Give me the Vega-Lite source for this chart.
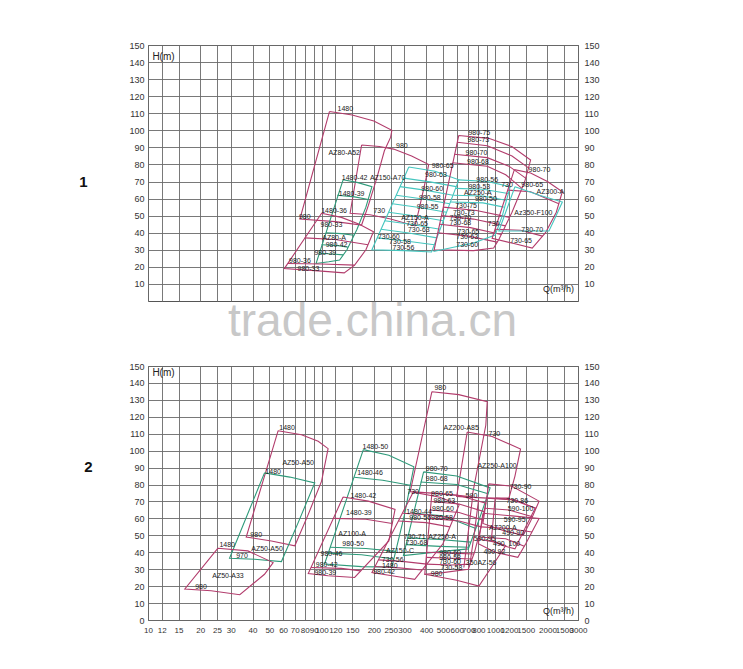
{
"$schema":"https://vega.github.io/schema/vega-lite/v6.json",
"background":"white",
"padding":{"left":78,"top":40,"right":10,"bottom":10},
"spacing":65,
"bounds":"flush",
"config":{"view":{"stroke":"#555","strokeWidth":1},"font":"Liberation Sans","axis":{"labelFont":"Liberation Sans","labelFontSize":9,"labelColor":"#333","ticks":false,"domain":false,"gridColor":"#6a6a6a","gridWidth":0.9,"gridOpacity":1}},
"datasets":{
"lines":[
{"p":1,"id":"a1","c":"pink","i":0,"q":111,"h":111},{"p":1,"id":"a1","c":"pink","i":1,"q":150,"h":109},{"p":1,"id":"a1","c":"pink","i":2,"q":200,"h":105.5},{"p":1,"id":"a1","c":"pink","i":3,"q":254,"h":100},{"p":1,"id":"a1","c":"pink","i":4,"q":250,"h":96},{"p":1,"id":"a1","c":"pink","i":5,"q":230,"h":88},{"p":1,"id":"a1","c":"pink","i":6,"q":208,"h":72},{"p":1,"id":"a1","c":"pink","i":7,"q":186,"h":56},{"p":1,"id":"a1","c":"pink","i":8,"q":170,"h":44.5},{"p":1,"id":"a1","c":"pink","i":9,"q":120,"h":46.5},{"p":1,"id":"a1","c":"pink","i":10,"q":75,"h":48},{"p":1,"id":"a1","c":"pink","i":11,"q":111,"h":111},
{"p":1,"id":"a2","c":"pink","i":0,"q":170,"h":91.4},{"p":1,"id":"a2","c":"pink","i":1,"q":215,"h":90.5},{"p":1,"id":"a2","c":"pink","i":2,"q":260,"h":89},{"p":1,"id":"a2","c":"pink","i":3,"q":330,"h":85},{"p":1,"id":"a2","c":"pink","i":4,"q":414,"h":80},{"p":1,"id":"a2","c":"pink","i":5,"q":400,"h":72},{"p":1,"id":"a2","c":"pink","i":6,"q":363,"h":53},{"p":1,"id":"a2","c":"pink","i":7,"q":345,"h":44},{"p":1,"id":"a2","c":"pink","i":8,"q":250,"h":48},{"p":1,"id":"a2","c":"pink","i":9,"q":190,"h":50.5},{"p":1,"id":"a2","c":"pink","i":10,"q":146,"h":51.4},{"p":1,"id":"a2","c":"pink","i":11,"q":170,"h":91.4},
{"p":1,"id":"a3","c":"green","i":0,"q":133,"h":71},{"p":1,"id":"a3","c":"green","i":1,"q":160,"h":69.5},{"p":1,"id":"a3","c":"green","i":2,"q":195,"h":67},{"p":1,"id":"a3","c":"green","i":3,"q":180,"h":55},{"p":1,"id":"a3","c":"green","i":4,"q":160,"h":42},{"p":1,"id":"a3","c":"green","i":5,"q":140,"h":30},{"p":1,"id":"a3","c":"green","i":6,"q":127,"h":24},{"p":1,"id":"a3","c":"green","i":7,"q":110,"h":23},{"p":1,"id":"a3","c":"green","i":8,"q":93,"h":22},{"p":1,"id":"a3","c":"green","i":9,"q":133,"h":71},
{"p":1,"id":"a3b","c":"green","i":0,"q":123,"h":62},{"p":1,"id":"a3b","c":"green","i":1,"q":155,"h":61},{"p":1,"id":"a3b","c":"green","i":2,"q":186,"h":59.5},
{"p":1,"id":"a3c","c":"green","i":0,"q":106,"h":40},{"p":1,"id":"a3c","c":"green","i":1,"q":130,"h":39.5},{"p":1,"id":"a3c","c":"green","i":2,"q":154,"h":38.5},
{"p":1,"id":"a3d","c":"green","i":0,"q":100,"h":33},{"p":1,"id":"a3d","c":"green","i":1,"q":122,"h":32.5},{"p":1,"id":"a3d","c":"green","i":2,"q":142,"h":31.5},
{"p":1,"id":"a3e","c":"green","i":0,"q":97,"h":28},{"p":1,"id":"a3e","c":"green","i":1,"q":115,"h":27.5},{"p":1,"id":"a3e","c":"green","i":2,"q":133,"h":27},
{"p":1,"id":"a4","c":"pink","i":0,"q":100,"h":51.4},{"p":1,"id":"a4","c":"pink","i":1,"q":130,"h":49},{"p":1,"id":"a4","c":"pink","i":2,"q":165,"h":45},{"p":1,"id":"a4","c":"pink","i":3,"q":199,"h":40.6},{"p":1,"id":"a4","c":"pink","i":4,"q":180,"h":30},{"p":1,"id":"a4","c":"pink","i":5,"q":155,"h":21},{"p":1,"id":"a4","c":"pink","i":6,"q":135,"h":16.5},{"p":1,"id":"a4","c":"pink","i":7,"q":100,"h":17.5},{"p":1,"id":"a4","c":"pink","i":8,"q":61,"h":19},{"p":1,"id":"a4","c":"pink","i":9,"q":100,"h":51.4},
{"p":1,"id":"a4b","c":"pink","i":0,"q":64,"h":22},{"p":1,"id":"a4b","c":"pink","i":1,"q":100,"h":21.7},{"p":1,"id":"a4b","c":"pink","i":2,"q":155,"h":21},
{"p":1,"id":"a4c","c":"pink","i":0,"q":80,"h":37},{"p":1,"id":"a4c","c":"pink","i":1,"q":120,"h":36},{"p":1,"id":"a4c","c":"pink","i":2,"q":185,"h":33},
{"p":1,"id":"a5","c":"cyan","i":0,"q":318,"h":78.5},{"p":1,"id":"a5","c":"cyan","i":1,"q":450,"h":76},{"p":1,"id":"a5","c":"cyan","i":2,"q":617,"h":71},{"p":1,"id":"a5","c":"cyan","i":3,"q":430,"h":28.7},{"p":1,"id":"a5","c":"cyan","i":4,"q":300,"h":29.5},{"p":1,"id":"a5","c":"cyan","i":5,"q":195,"h":30},{"p":1,"id":"a5","c":"cyan","i":6,"q":318,"h":78.5},
{"p":1,"id":"a5a","c":"cyan","i":0,"q":298,"h":72},{"p":1,"id":"a5a","c":"cyan","i":1,"q":421,"h":69.8},{"p":1,"id":"a5a","c":"cyan","i":2,"q":596,"h":67},
{"p":1,"id":"a5b","c":"cyan","i":0,"q":283,"h":67},{"p":1,"id":"a5b","c":"cyan","i":1,"q":402,"h":64.8},{"p":1,"id":"a5b","c":"cyan","i":2,"q":571,"h":62},
{"p":1,"id":"a5c","c":"cyan","i":0,"q":269,"h":62},{"p":1,"id":"a5c","c":"cyan","i":1,"q":384,"h":59.8},{"p":1,"id":"a5c","c":"cyan","i":2,"q":547,"h":57},
{"p":1,"id":"a5d","c":"cyan","i":0,"q":256,"h":57},{"p":1,"id":"a5d","c":"cyan","i":1,"q":366,"h":54.8},{"p":1,"id":"a5d","c":"cyan","i":2,"q":524,"h":52},
{"p":1,"id":"a5e","c":"cyan","i":0,"q":243,"h":52},{"p":1,"id":"a5e","c":"cyan","i":1,"q":349,"h":49.8},{"p":1,"id":"a5e","c":"cyan","i":2,"q":502,"h":47},
{"p":1,"id":"a5f","c":"cyan","i":0,"q":231,"h":47},{"p":1,"id":"a5f","c":"cyan","i":1,"q":333,"h":44.8},{"p":1,"id":"a5f","c":"cyan","i":2,"q":481,"h":42},
{"p":1,"id":"a5g","c":"cyan","i":0,"q":220,"h":42},{"p":1,"id":"a5g","c":"cyan","i":1,"q":318,"h":39.8},{"p":1,"id":"a5g","c":"cyan","i":2,"q":461,"h":37},
{"p":1,"id":"a5h","c":"cyan","i":0,"q":209,"h":37},{"p":1,"id":"a5h","c":"cyan","i":1,"q":305,"h":35.2},{"p":1,"id":"a5h","c":"cyan","i":2,"q":446,"h":33},
{"p":1,"id":"a6","c":"pink","i":0,"q":617,"h":97},{"p":1,"id":"a6","c":"pink","i":1,"q":918,"h":95.3},{"p":1,"id":"a6","c":"pink","i":2,"q":1253,"h":90.4},{"p":1,"id":"a6","c":"pink","i":3,"q":1600,"h":82.6},{"p":1,"id":"a6","c":"pink","i":4,"q":1480,"h":70},{"p":1,"id":"a6","c":"pink","i":5,"q":1250,"h":52},{"p":1,"id":"a6","c":"pink","i":6,"q":1050,"h":36},{"p":1,"id":"a6","c":"pink","i":7,"q":980,"h":31},{"p":1,"id":"a6","c":"pink","i":8,"q":750,"h":29.5},{"p":1,"id":"a6","c":"pink","i":9,"q":445,"h":30},{"p":1,"id":"a6","c":"pink","i":10,"q":617,"h":97},
{"p":1,"id":"a6a","c":"pink","i":0,"q":605,"h":93},{"p":1,"id":"a6a","c":"pink","i":1,"q":900,"h":91},{"p":1,"id":"a6a","c":"pink","i":2,"q":1250,"h":85},{"p":1,"id":"a6a","c":"pink","i":3,"q":1555,"h":78},
{"p":1,"id":"a6b","c":"pink","i":0,"q":582,"h":86},{"p":1,"id":"a6b","c":"pink","i":1,"q":900,"h":84},{"p":1,"id":"a6b","c":"pink","i":2,"q":1200,"h":79},{"p":1,"id":"a6b","c":"pink","i":3,"q":1498,"h":72},
{"p":1,"id":"a6c","c":"pink","i":0,"q":568,"h":81},{"p":1,"id":"a6c","c":"pink","i":1,"q":900,"h":79},{"p":1,"id":"a6c","c":"pink","i":2,"q":1150,"h":74},{"p":1,"id":"a6c","c":"pink","i":3,"q":1425,"h":66},
{"p":1,"id":"a6d","c":"pink","i":0,"q":502,"h":55},{"p":1,"id":"a6d","c":"pink","i":1,"q":780,"h":53},{"p":1,"id":"a6d","c":"pink","i":2,"q":1210,"h":49},
{"p":1,"id":"a6e","c":"pink","i":0,"q":490,"h":50},{"p":1,"id":"a6e","c":"pink","i":1,"q":750,"h":48},{"p":1,"id":"a6e","c":"pink","i":2,"q":1146,"h":44},
{"p":1,"id":"a6f","c":"pink","i":0,"q":478,"h":45},{"p":1,"id":"a6f","c":"pink","i":1,"q":720,"h":43},{"p":1,"id":"a6f","c":"pink","i":2,"q":1085,"h":39},
{"p":1,"id":"a6g","c":"pink","i":0,"q":467,"h":40},{"p":1,"id":"a6g","c":"pink","i":1,"q":700,"h":38},{"p":1,"id":"a6g","c":"pink","i":2,"q":1028,"h":34.5},
{"p":1,"id":"a7","c":"cyan","i":0,"q":617,"h":71},{"p":1,"id":"a7","c":"cyan","i":1,"q":900,"h":70},{"p":1,"id":"a7","c":"cyan","i":2,"q":1220,"h":67},{"p":1,"id":"a7","c":"cyan","i":3,"q":1100,"h":50},{"p":1,"id":"a7","c":"cyan","i":4,"q":1000,"h":38.7},{"p":1,"id":"a7","c":"cyan","i":5,"q":750,"h":34},{"p":1,"id":"a7","c":"cyan","i":6,"q":441,"h":29},
{"p":1,"id":"a7a","c":"cyan","i":0,"q":592,"h":66},{"p":1,"id":"a7a","c":"cyan","i":1,"q":850,"h":65.5},{"p":1,"id":"a7a","c":"cyan","i":2,"q":1187,"h":63},
{"p":1,"id":"a7b","c":"cyan","i":0,"q":574,"h":62},{"p":1,"id":"a7b","c":"cyan","i":1,"q":850,"h":61.5},{"p":1,"id":"a7b","c":"cyan","i":2,"q":1153,"h":59},
{"p":1,"id":"a7c","c":"cyan","i":0,"q":556,"h":58},{"p":1,"id":"a7c","c":"cyan","i":1,"q":850,"h":57.5},{"p":1,"id":"a7c","c":"cyan","i":2,"q":1121,"h":55},
{"p":1,"id":"a8","c":"pink","i":0,"q":1290,"h":77},{"p":1,"id":"a8","c":"pink","i":1,"q":1600,"h":75},{"p":1,"id":"a8","c":"pink","i":2,"q":2000,"h":70},{"p":1,"id":"a8","c":"pink","i":3,"q":2437,"h":64},{"p":1,"id":"a8","c":"pink","i":4,"q":2250,"h":52},{"p":1,"id":"a8","c":"pink","i":5,"q":1950,"h":40},{"p":1,"id":"a8","c":"pink","i":6,"q":1635,"h":31},{"p":1,"id":"a8","c":"pink","i":7,"q":1300,"h":33.5},{"p":1,"id":"a8","c":"pink","i":8,"q":960,"h":36.7},{"p":1,"id":"a8","c":"pink","i":9,"q":1290,"h":77},
{"p":1,"id":"a8a","c":"pink","i":0,"q":1182,"h":65},{"p":1,"id":"a8a","c":"pink","i":1,"q":1600,"h":64},{"p":1,"id":"a8a","c":"pink","i":2,"q":2326,"h":57},
{"p":1,"id":"a8b","c":"pink","i":0,"q":998,"h":42},{"p":1,"id":"a8b","c":"pink","i":1,"q":1400,"h":41.5},{"p":1,"id":"a8b","c":"pink","i":2,"q":1875,"h":38},
{"p":1,"id":"a9","c":"cyan","i":0,"q":1300,"h":67},{"p":1,"id":"a9","c":"cyan","i":1,"q":1800,"h":62},{"p":1,"id":"a9","c":"cyan","i":2,"q":2437,"h":58},{"p":1,"id":"a9","c":"cyan","i":3,"q":2200,"h":48},{"p":1,"id":"a9","c":"cyan","i":4,"q":2040,"h":41},{"p":1,"id":"a9","c":"cyan","i":5,"q":1600,"h":41},{"p":1,"id":"a9","c":"cyan","i":6,"q":1050,"h":41},{"p":1,"id":"a9","c":"cyan","i":7,"q":1300,"h":67},
{"p":2,"id":"b1","c":"pink","i":0,"q":56.2,"h":111.8},{"p":2,"id":"b1","c":"pink","i":1,"q":76.6,"h":109.4},{"p":2,"id":"b1","c":"pink","i":2,"q":95.6,"h":105.5},{"p":2,"id":"b1","c":"pink","i":3,"q":109,"h":101.2},{"p":2,"id":"b1","c":"pink","i":4,"q":100,"h":82},{"p":2,"id":"b1","c":"pink","i":5,"q":83.8,"h":62.4},{"p":2,"id":"b1","c":"pink","i":6,"q":70.1,"h":43.8},{"p":2,"id":"b1","c":"pink","i":7,"q":51.4,"h":46.7},{"p":2,"id":"b1","c":"pink","i":8,"q":36.8,"h":49},{"p":2,"id":"b1","c":"pink","i":9,"q":56.2,"h":111.8},
{"p":2,"id":"b2","c":"green","i":0,"q":46.9,"h":86.9},{"p":2,"id":"b2","c":"green","i":1,"q":65.6,"h":84.4},{"p":2,"id":"b2","c":"green","i":2,"q":91.3,"h":81},{"p":2,"id":"b2","c":"green","i":3,"q":73.3,"h":57.5},{"p":2,"id":"b2","c":"green","i":4,"q":58.7,"h":34.5},{"p":2,"id":"b2","c":"green","i":5,"q":41.1,"h":35.9},{"p":2,"id":"b2","c":"green","i":6,"q":29.5,"h":36.5},{"p":2,"id":"b2","c":"green","i":7,"q":46.9,"h":86.9},
{"p":2,"id":"b3","c":"pink","i":0,"q":25.3,"h":42.4},{"p":2,"id":"b3","c":"pink","i":1,"q":37.6,"h":40.8},{"p":2,"id":"b3","c":"pink","i":2,"q":52.6,"h":33.9},{"p":2,"id":"b3","c":"pink","i":3,"q":46.9,"h":27},{"p":2,"id":"b3","c":"pink","i":4,"q":33.8,"h":14.9},{"p":2,"id":"b3","c":"pink","i":5,"q":23.1,"h":17.3},{"p":2,"id":"b3","c":"pink","i":6,"q":16.3,"h":18.3},{"p":2,"id":"b3","c":"pink","i":7,"q":25.3,"h":42.4},
{"p":2,"id":"b4","c":"green","i":0,"q":174,"h":100.6},{"p":2,"id":"b4","c":"green","i":1,"q":244,"h":97.3},{"p":2,"id":"b4","c":"green","i":2,"q":340,"h":90.5},{"p":2,"id":"b4","c":"green","i":3,"q":300,"h":62},{"p":2,"id":"b4","c":"green","i":4,"q":254,"h":31.2},{"p":2,"id":"b4","c":"green","i":5,"q":170,"h":31.5},{"p":2,"id":"b4","c":"green","i":6,"q":104,"h":33},{"p":2,"id":"b4","c":"green","i":7,"q":174,"h":100.6},
{"p":2,"id":"b4a","c":"green","i":0,"q":154,"h":84.3},{"p":2,"id":"b4a","c":"green","i":1,"q":225,"h":82.5},{"p":2,"id":"b4a","c":"green","i":2,"q":324,"h":79.6},
{"p":2,"id":"b4b","c":"green","i":0,"q":112,"h":43},{"p":2,"id":"b4b","c":"green","i":1,"q":180,"h":42.2},{"p":2,"id":"b4b","c":"green","i":2,"q":268,"h":40.5},
{"p":2,"id":"b4c","c":"green","i":0,"q":109,"h":39.5},{"p":2,"id":"b4c","c":"green","i":1,"q":170,"h":38.5},{"p":2,"id":"b4c","c":"green","i":2,"q":261,"h":36},
{"p":2,"id":"b5","c":"pink","i":0,"q":133,"h":72.6},{"p":2,"id":"b5","c":"pink","i":1,"q":186,"h":70.2},{"p":2,"id":"b5","c":"pink","i":2,"q":265,"h":65.3},{"p":2,"id":"b5","c":"pink","i":3,"q":244,"h":46.7},{"p":2,"id":"b5","c":"pink","i":4,"q":155,"h":25.1},{"p":2,"id":"b5","c":"pink","i":5,"q":109,"h":26.1},{"p":2,"id":"b5","c":"pink","i":6,"q":83.8,"h":27.5},{"p":2,"id":"b5","c":"pink","i":7,"q":133,"h":72.6},
{"p":2,"id":"b5a","c":"pink","i":0,"q":117,"h":60},{"p":2,"id":"b5a","c":"pink","i":1,"q":180,"h":59.5},{"p":2,"id":"b5a","c":"pink","i":2,"q":255,"h":57},
{"p":2,"id":"b5b","c":"pink","i":0,"q":87,"h":31},{"p":2,"id":"b5b","c":"pink","i":1,"q":130,"h":30.5},{"p":2,"id":"b5b","c":"pink","i":2,"q":168,"h":29},
{"p":2,"id":"b6","c":"pink","i":0,"q":432,"h":134.8},{"p":2,"id":"b6","c":"pink","i":1,"q":617,"h":133.1},{"p":2,"id":"b6","c":"pink","i":2,"q":900,"h":128.9},{"p":2,"id":"b6","c":"pink","i":3,"q":883,"h":115},{"p":2,"id":"b6","c":"pink","i":4,"q":736,"h":72.8},{"p":2,"id":"b6","c":"pink","i":5,"q":500,"h":74.5},{"p":2,"id":"b6","c":"pink","i":6,"q":324,"h":75.8},{"p":2,"id":"b6","c":"pink","i":7,"q":432,"h":134.8},
{"p":2,"id":"b7","c":"pink","i":0,"q":690,"h":111},{"p":2,"id":"b7","c":"pink","i":1,"q":960,"h":108.4},{"p":2,"id":"b7","c":"pink","i":2,"q":1400,"h":101},{"p":2,"id":"b7","c":"pink","i":3,"q":1300,"h":85},{"p":2,"id":"b7","c":"pink","i":4,"q":1200,"h":72},{"p":2,"id":"b7","c":"pink","i":5,"q":900,"h":72},{"p":2,"id":"b7","c":"pink","i":6,"q":600,"h":73},{"p":2,"id":"b7","c":"pink","i":7,"q":690,"h":111},
{"p":2,"id":"b8","c":"green","i":0,"q":387,"h":87.5},{"p":2,"id":"b8","c":"green","i":1,"q":600,"h":85},{"p":2,"id":"b8","c":"green","i":2,"q":935,"h":78},{"p":2,"id":"b8","c":"green","i":3,"q":900,"h":73},{"p":2,"id":"b8","c":"green","i":4,"q":800,"h":58},{"p":2,"id":"b8","c":"green","i":5,"q":700,"h":42},{"p":2,"id":"b8","c":"green","i":6,"q":500,"h":40.5},{"p":2,"id":"b8","c":"green","i":7,"q":296,"h":38},{"p":2,"id":"b8","c":"green","i":8,"q":387,"h":87.5},
{"p":2,"id":"b8a","c":"green","i":0,"q":372,"h":81.5},{"p":2,"id":"b8a","c":"green","i":1,"q":600,"h":80},{"p":2,"id":"b8a","c":"green","i":2,"q":910,"h":74.5},
{"p":2,"id":"b8b","c":"green","i":0,"q":313,"h":48.5},{"p":2,"id":"b8b","c":"green","i":1,"q":480,"h":47.5},{"p":2,"id":"b8b","c":"green","i":2,"q":724,"h":46},
{"p":2,"id":"b8c","c":"green","i":0,"q":307,"h":44.5},{"p":2,"id":"b8c","c":"green","i":1,"q":480,"h":43.5},{"p":2,"id":"b8c","c":"green","i":2,"q":706,"h":43},
{"p":2,"id":"b8d","c":"green","i":0,"q":339,"h":63},{"p":2,"id":"b8d","c":"green","i":1,"q":500,"h":61.5},{"p":2,"id":"b8d","c":"green","i":2,"q":774,"h":54},
{"p":2,"id":"b9","c":"pink","i":0,"q":337,"h":75.5},{"p":2,"id":"b9","c":"pink","i":1,"q":480,"h":72.5},{"p":2,"id":"b9","c":"pink","i":2,"q":620,"h":68},{"p":2,"id":"b9","c":"pink","i":3,"q":500,"h":45},{"p":2,"id":"b9","c":"pink","i":4,"q":344,"h":24},{"p":2,"id":"b9","c":"pink","i":5,"q":260,"h":26},{"p":2,"id":"b9","c":"pink","i":6,"q":195,"h":28},{"p":2,"id":"b9","c":"pink","i":7,"q":337,"h":75.5},
{"p":2,"id":"b9a","c":"pink","i":0,"q":292,"h":63},{"p":2,"id":"b9a","c":"pink","i":1,"q":420,"h":62},{"p":2,"id":"b9a","c":"pink","i":2,"q":575,"h":60},
{"p":2,"id":"b9b","c":"pink","i":0,"q":277,"h":58.5},{"p":2,"id":"b9b","c":"pink","i":1,"q":400,"h":57.5},{"p":2,"id":"b9b","c":"pink","i":2,"q":548,"h":55},
{"p":2,"id":"b9c","c":"pink","i":0,"q":213,"h":35.5},{"p":2,"id":"b9c","c":"pink","i":1,"q":300,"h":34.5},{"p":2,"id":"b9c","c":"pink","i":2,"q":404,"h":33},
{"p":2,"id":"b9d","c":"pink","i":0,"q":203,"h":31.6},{"p":2,"id":"b9d","c":"pink","i":1,"q":280,"h":30.8},{"p":2,"id":"b9d","c":"pink","i":2,"q":379,"h":29.5},
{"p":2,"id":"b10","c":"pink","i":0,"q":432,"h":75},{"p":2,"id":"b10","c":"pink","i":1,"q":620,"h":73.5},{"p":2,"id":"b10","c":"pink","i":2,"q":883,"h":69},{"p":2,"id":"b10","c":"pink","i":3,"q":830,"h":55},{"p":2,"id":"b10","c":"pink","i":4,"q":760,"h":40},{"p":2,"id":"b10","c":"pink","i":5,"q":700,"h":30},{"p":2,"id":"b10","c":"pink","i":6,"q":500,"h":28},{"p":2,"id":"b10","c":"pink","i":7,"q":393,"h":27},{"p":2,"id":"b10","c":"pink","i":8,"q":432,"h":75},
{"p":2,"id":"b10a","c":"pink","i":0,"q":428,"h":70},{"p":2,"id":"b10a","c":"pink","i":1,"q":620,"h":68.5},{"p":2,"id":"b10a","c":"pink","i":2,"q":864,"h":64},
{"p":2,"id":"b10b","c":"pink","i":0,"q":424,"h":65},{"p":2,"id":"b10b","c":"pink","i":1,"q":620,"h":63.5},{"p":2,"id":"b10b","c":"pink","i":2,"q":849,"h":59},
{"p":2,"id":"b10c","c":"pink","i":0,"q":420,"h":60},{"p":2,"id":"b10c","c":"pink","i":1,"q":620,"h":58.5},{"p":2,"id":"b10c","c":"pink","i":2,"q":830,"h":55},
{"p":2,"id":"b10d","c":"pink","i":0,"q":403,"h":40},{"p":2,"id":"b10d","c":"pink","i":1,"q":560,"h":39.5},{"p":2,"id":"b10d","c":"pink","i":2,"q":754,"h":39},
{"p":2,"id":"b10e","c":"pink","i":0,"q":401,"h":37},{"p":2,"id":"b10e","c":"pink","i":1,"q":560,"h":36.5},{"p":2,"id":"b10e","c":"pink","i":2,"q":736,"h":36},
{"p":2,"id":"b10f","c":"pink","i":0,"q":398,"h":33},{"p":2,"id":"b10f","c":"pink","i":1,"q":560,"h":32.5},{"p":2,"id":"b10f","c":"pink","i":2,"q":719,"h":33},
{"p":2,"id":"b10g","c":"pink","i":0,"q":740,"h":72},{"p":2,"id":"b10g","c":"pink","i":1,"q":700,"h":52},{"p":2,"id":"b10g","c":"pink","i":2,"q":660,"h":31},
{"p":2,"id":"b10h","c":"pink","i":0,"q":800,"h":70},{"p":2,"id":"b10h","c":"pink","i":1,"q":760,"h":52},{"p":2,"id":"b10h","c":"pink","i":2,"q":720,"h":35},
{"p":2,"id":"b11","c":"pink","i":0,"q":393,"h":27},{"p":2,"id":"b11","c":"pink","i":1,"q":600,"h":23.5},{"p":2,"id":"b11","c":"pink","i":2,"q":806,"h":20},{"p":2,"id":"b11","c":"pink","i":3,"q":950,"h":31},{"p":2,"id":"b11","c":"pink","i":4,"q":1150,"h":44},{"p":2,"id":"b11","c":"pink","i":5,"q":1000,"h":46},{"p":2,"id":"b11","c":"pink","i":6,"q":780,"h":48},
{"p":2,"id":"b12","c":"pink","i":0,"q":918,"h":80.4},{"p":2,"id":"b12","c":"pink","i":1,"q":1250,"h":79},{"p":2,"id":"b12","c":"pink","i":2,"q":1790,"h":70.2},{"p":2,"id":"b12","c":"pink","i":3,"q":1600,"h":58.5},{"p":2,"id":"b12","c":"pink","i":4,"q":1450,"h":50},{"p":2,"id":"b12","c":"pink","i":5,"q":1100,"h":53},{"p":2,"id":"b12","c":"pink","i":6,"q":850,"h":57},{"p":2,"id":"b12","c":"pink","i":7,"q":918,"h":80.4},
{"p":2,"id":"b12a","c":"pink","i":0,"q":893,"h":72},{"p":2,"id":"b12a","c":"pink","i":1,"q":1250,"h":71},{"p":2,"id":"b12a","c":"pink","i":2,"q":1720,"h":66},
{"p":2,"id":"b12b","c":"pink","i":0,"q":876,"h":66},{"p":2,"id":"b12b","c":"pink","i":1,"q":1200,"h":65},{"p":2,"id":"b12b","c":"pink","i":2,"q":1639,"h":61},
{"p":2,"id":"b13","c":"pink","i":0,"q":850,"h":63},{"p":2,"id":"b13","c":"pink","i":1,"q":1250,"h":61.5},{"p":2,"id":"b13","c":"pink","i":2,"q":1790,"h":60},{"p":2,"id":"b13","c":"pink","i":3,"q":1500,"h":45},{"p":2,"id":"b13","c":"pink","i":4,"q":1350,"h":37},{"p":2,"id":"b13","c":"pink","i":5,"q":1000,"h":40},{"p":2,"id":"b13","c":"pink","i":6,"q":800,"h":45},{"p":2,"id":"b13","c":"pink","i":7,"q":850,"h":63},
{"p":2,"id":"b13a","c":"pink","i":0,"q":828,"h":55},{"p":2,"id":"b13a","c":"pink","i":1,"q":1200,"h":54},{"p":2,"id":"b13a","c":"pink","i":2,"q":1629,"h":52},
{"p":2,"id":"b13b","c":"pink","i":0,"q":811,"h":49},{"p":2,"id":"b13b","c":"pink","i":1,"q":1150,"h":48},{"p":2,"id":"b13b","c":"pink","i":2,"q":1471,"h":43.5},
{"p":2,"id":"b14","c":"pink","i":0,"q":1000,"h":72},{"p":2,"id":"b14","c":"pink","i":1,"q":1300,"h":71},{"p":2,"id":"b14","c":"pink","i":2,"q":1700,"h":66},{"p":2,"id":"b14","c":"pink","i":3,"q":1500,"h":55},{"p":2,"id":"b14","c":"pink","i":4,"q":1300,"h":42},{"p":2,"id":"b14","c":"pink","i":5,"q":1100,"h":44},{"p":2,"id":"b14","c":"pink","i":6,"q":950,"h":47},{"p":2,"id":"b14","c":"pink","i":7,"q":1000,"h":72}
],
"labels":[
{"p":1,"q":137,"h":112.5,"t":"1480"},{"p":1,"q":135,"h":87,"t":"AZ80-A52"},{"p":1,"q":80,"h":49.5,"t":"980"},{"p":1,"q":290,"h":91,"t":"980"},
{"p":1,"q":155,"h":72,"t":"1480-42"},{"p":1,"q":240,"h":72,"t":"AZ150-A70"},{"p":1,"q":149,"h":62.9,"t":"1480-39"},{"p":1,"q":215,"h":52.5,"t":"730"},
{"p":1,"q":118,"h":52.7,"t":"1480-36"},{"p":1,"q":114,"h":44.5,"t":"980-33"},{"p":1,"q":118,"h":36.7,"t":"AZ80-A"},{"p":1,"q":122,"h":32.8,"t":"980-42"},{"p":1,"q":105,"h":28,"t":"980-39"},{"p":1,"q":75,"h":23.4,"t":"980-36"},{"p":1,"q":84,"h":19,"t":"980-33"},
{"p":1,"q":498,"h":79,"t":"980-65"},{"p":1,"q":456,"h":73.8,"t":"980-63"},{"p":1,"q":434,"h":65.4,"t":"980-60"},{"p":1,"q":420,"h":60.5,"t":"980-58"},{"p":1,"q":408,"h":55.3,"t":"980-55"},{"p":1,"q":345,"h":48.5,"t":"AZ150-A"},{"p":1,"q":355,"h":45.1,"t":"730-65"},{"p":1,"q":363,"h":41.6,"t":"730-63"},{"p":1,"q":244,"h":37.7,"t":"730-60"},{"p":1,"q":283,"h":34.3,"t":"730-58"},{"p":1,"q":296,"h":30.9,"t":"730-56"},
{"p":1,"q":810,"h":98.6,"t":"980-75"},{"p":1,"q":800,"h":94.3,"t":"980-73"},{"p":1,"q":780,"h":86.5,"t":"980-70"},{"p":1,"q":795,"h":81.3,"t":"980-68"},
{"p":1,"q":900,"h":70.9,"t":"980-56"},{"p":1,"q":810,"h":67,"t":"980-53"},{"p":1,"q":795,"h":63.1,"t":"AZ250-A"},{"p":1,"q":885,"h":59.8,"t":"980-50"},{"p":1,"q":680,"h":55.9,"t":"730-75"},{"p":1,"q":660,"h":51.8,"t":"730-73"},{"p":1,"q":630,"h":48.8,"t":"730-70"},{"p":1,"q":630,"h":45.5,"t":"730-68"},{"p":1,"q":700,"h":40.6,"t":"730-65"},{"p":1,"q":690,"h":37.3,"t":"730-63"},{"p":1,"q":690,"h":32.8,"t":"730-60"},
{"p":1,"q":1800,"h":77,"t":"980-70"},{"p":1,"q":1635,"h":68,"t":"980-65"},{"p":1,"q":2080,"h":64,"t":"AZ300-A"},{"p":1,"q":1170,"h":68,"t":"730"},{"p":1,"q":980,"h":45,"t":"730"},{"p":1,"q":1635,"h":41.8,"t":"730-70"},{"p":1,"q":1410,"h":35.4,"t":"730-65"},{"p":1,"q":1660,"h":51.8,"t":"Az350-F100"},
{"p":2,"q":63.3,"h":113.4,"t":"1480"},{"p":2,"q":73.3,"h":92.8,"t":"AZ50-A50"},{"p":2,"q":42,"h":50,"t":"980"},
{"p":2,"q":52.6,"h":87.3,"t":"1480"},{"p":2,"q":34.8,"h":37.9,"t":"970"},{"p":2,"q":48.5,"h":42.2,"t":"AZ50-A50"},
{"p":2,"q":28.6,"h":44.3,"t":"1480"},{"p":2,"q":28.9,"h":26.1,"t":"AZ50-A33"},{"p":2,"q":20.2,"h":19.2,"t":"980"},
{"p":2,"q":204,"h":102,"t":"1480-50"},{"p":2,"q":190,"h":86.9,"t":"1480-46"},{"p":2,"q":150,"h":50.6,"t":"AZ100-A"},{"p":2,"q":152,"h":44.7,"t":"980-50"},{"p":2,"q":114,"h":39.2,"t":"980-46"},
{"p":2,"q":174,"h":73.2,"t":"1480-42"},{"p":2,"q":164,"h":63.4,"t":"1480-39"},{"p":2,"q":107,"h":32.4,"t":"980-42"},{"p":2,"q":105,"h":27.7,"t":"980-39"},
{"p":2,"q":483,"h":137,"t":"980"},{"p":2,"q":637,"h":113.5,"t":"AZ200-A85"},{"p":2,"q":337,"h":75.5,"t":"730"},{"p":2,"q":730,"h":73,"t":"590"},
{"p":2,"q":990,"h":110,"t":"730"},{"p":2,"q":1025,"h":90.8,"t":"AZ250-A100"},
{"p":2,"q":460,"h":89.4,"t":"980-70"},{"p":2,"q":460,"h":83.4,"t":"980-68"},
{"p":2,"q":364,"h":63.8,"t":"1480-44"},{"p":2,"q":370,"h":60,"t":"980-56"},
{"p":2,"q":344,"h":49,"t":"730-71"},{"p":2,"q":352,"h":45.7,"t":"730-68"},{"p":2,"q":494,"h":49,"t":"AZ250-A"},
{"p":2,"q":283,"h":40.8,"t":"AZ150-C"},{"p":2,"q":257,"h":35.5,"t":"730-56"},{"p":2,"q":247,"h":31.6,"t":"1480"},{"p":2,"q":229,"h":28.1,"t":"980-42"},
{"p":2,"q":494,"h":74.5,"t":"980-65"},{"p":2,"q":509,"h":70.2,"t":"980-63"},{"p":2,"q":500,"h":65.3,"t":"980-60"},{"p":2,"q":494,"h":60.4,"t":"980-58"},
{"p":2,"q":550,"h":39.8,"t":"980-60"},{"p":2,"q":550,"h":36.9,"t":"980-58"},{"p":2,"q":550,"h":34,"t":"730-60"},{"p":2,"q":560,"h":31,"t":"730-58"},{"p":2,"q":460,"h":27.1,"t":"980"},
{"p":2,"q":830,"h":33.4,"t":"350AZ-56"},
{"p":2,"q":1400,"h":78.7,"t":"730-90"},{"p":2,"q":1340,"h":70.2,"t":"730-86"},{"p":2,"q":1400,"h":65.3,"t":"590-100"},
{"p":2,"q":1295,"h":59,"t":"590-95"},{"p":2,"q":1107,"h":54.5,"t":"AZ200-A"},{"p":2,"q":1270,"h":51.2,"t":"490-90"},{"p":2,"q":870,"h":47.6,"t":"590-95"},{"p":2,"q":1050,"h":44.7,"t":"490"},{"p":2,"q":1290,"h":44.7,"t":"100"},{"p":2,"q":990,"h":40.4,"t":"490-92"}
],
"names":[
{"p":1,"k":"h","q":10.6,"h":143,"t":"H(m)"},{"p":2,"k":"h","q":10.6,"h":146,"t":"H(m)"},
{"p":1,"k":"q","q":2844,"h":7,"t":"Q(m³/h)"},{"p":2,"k":"q","q":2844,"h":5.3,"t":"Q(m³/h)"}
]
},
"vconcat":[
{
"width":430,"height":256,
"layer":[
{"data":{"name":"lines"},"transform":[{"filter":"datum.p==1"}],
"mark":{"type":"line","strokeWidth":1.1,"clip":true},
"encoding":{
"x":{"field":"q","type":"quantitative","scale":{"type":"log","domain":[10,3000],"nice":false},"axis":{"values":[10,12,15,20,25,30,40,50,60,70,80,90,100,120,150,200,250,300,400,500,600,700,800,900,1000,1200,1500,2000,2500,3000],"grid":true,"labels":false,"title":"trade.china.cn","titleFontSize":46,"titleFontWeight":"normal","titleColor":"#c8c8c8","titleX":224,"titleY":20,"titleAlign":"center","titleBaseline":"middle","titleFont":"Liberation Sans"}},
"y":{"field":"h","type":"quantitative","scale":{"domain":[0,150],"nice":false,"zero":false},"axis":{"orient":"left","values":[10,20,30,40,50,60,70,80,90,100,110,120,130,140,150],"grid":true,"labelPadding":4,"title":"1","titleAngle":0,"titleFontSize":15,"titleFontWeight":"bold","titleColor":"#111","titleX":-65,"titleY":136,"titleAlign":"center","titleBaseline":"middle"}},
"detail":{"field":"id"},
"order":{"field":"i","type":"quantitative"},
"color":{"field":"c","type":"nominal","scale":{"domain":["pink","green","cyan"],"range":["#b23c6c","#2e9a7a","#45c6bf"]},"legend":null}
}},
{"data":{"name":"labels"},"transform":[{"filter":"datum.p==1"}],
"mark":{"type":"text","fontSize":7,"color":"#1a1a1a"},
"encoding":{
"x":{"field":"q","type":"quantitative","scale":{"type":"log","domain":[10,3000],"nice":false}},
"y":{"field":"h","type":"quantitative","scale":{"domain":[0,150],"nice":false,"zero":false},"axis":{"orient":"right","values":[10,20,30,40,50,60,70,80,90,100,110,120,130,140,150],"grid":false,"labelPadding":6,"title":null}},
"text":{"field":"t"}
}},
{"data":{"name":"names"},"transform":[{"filter":"datum.p==1 && datum.k=='h'"}],
"mark":{"type":"text","fontSize":10,"align":"left","color":"#222"},
"encoding":{"x":{"field":"q","type":"quantitative"},"y":{"field":"h","type":"quantitative","axis":null},"text":{"field":"t"}}},
{"data":{"name":"names"},"transform":[{"filter":"datum.p==1 && datum.k=='q'"}],
"mark":{"type":"text","fontSize":9,"align":"right","color":"#222"},
"encoding":{"x":{"field":"q","type":"quantitative"},"y":{"field":"h","type":"quantitative","axis":null},"text":{"field":"t"}}}
],
"resolve":{"axis":{"y":"independent"}}
},
{
"width":430,"height":254,
"layer":[
{"data":{"name":"lines"},"transform":[{"filter":"datum.p==2"}],
"mark":{"type":"line","strokeWidth":1.1,"clip":true},
"encoding":{
"x":{"field":"q","type":"quantitative","scale":{"type":"log","domain":[10,3000],"nice":false},"axis":{"values":[10,12,15,20,25,30,40,50,60,70,80,90,100,120,150,200,250,300,400,500,600,700,800,900,1000,1200,1500,2000,2500,3000],"grid":true,"labelExpr":"datum.value==2500?'1500':(datum.value==900?'':format(datum.value,'d'))","labelFontSize":8,"labelPadding":6,"labelOverlap":false,"labelFlush":false,"labelBound":false,"title":null}},
"y":{"field":"h","type":"quantitative","scale":{"domain":[0,150],"nice":false},"axis":{"orient":"left","values":[0,10,20,30,40,50,60,70,80,90,100,110,120,130,140,150],"grid":true,"labelPadding":4,"title":"2","titleAngle":0,"titleFontSize":15,"titleFontWeight":"bold","titleColor":"#111","titleX":-60,"titleY":100,"titleAlign":"center","titleBaseline":"middle"}},
"detail":{"field":"id"},
"order":{"field":"i","type":"quantitative"},
"color":{"field":"c","type":"nominal","scale":{"domain":["pink","green","cyan"],"range":["#b23c6c","#2e9a7a","#45c6bf"]},"legend":null}
}},
{"data":{"name":"labels"},"transform":[{"filter":"datum.p==2"}],
"mark":{"type":"text","fontSize":7,"color":"#1a1a1a"},
"encoding":{
"x":{"field":"q","type":"quantitative","scale":{"type":"log","domain":[10,3000],"nice":false}},
"y":{"field":"h","type":"quantitative","scale":{"domain":[0,150],"nice":false},"axis":{"orient":"right","values":[0,10,20,30,40,50,60,70,80,90,100,110,120,130,140,150],"grid":false,"labelPadding":6,"title":null}},
"text":{"field":"t"}
}},
{"data":{"name":"names"},"transform":[{"filter":"datum.p==2 && datum.k=='h'"}],
"mark":{"type":"text","fontSize":10,"align":"left","color":"#222"},
"encoding":{"x":{"field":"q","type":"quantitative"},"y":{"field":"h","type":"quantitative","axis":null},"text":{"field":"t"}}},
{"data":{"name":"names"},"transform":[{"filter":"datum.p==2 && datum.k=='q'"}],
"mark":{"type":"text","fontSize":9,"align":"right","color":"#222"},
"encoding":{"x":{"field":"q","type":"quantitative"},"y":{"field":"h","type":"quantitative","axis":null},"text":{"field":"t"}}}
],
"resolve":{"axis":{"y":"independent"}}
}
]
}
